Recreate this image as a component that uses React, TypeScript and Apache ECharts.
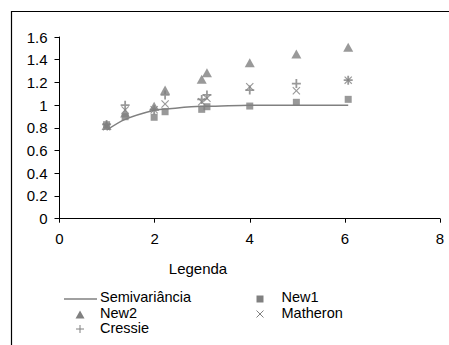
import React, { useEffect, useRef } from "react";
import * as echarts from "echarts";

const lags = [0.99, 1.38, 1.99, 2.22, 2.99, 3.1, 4.0, 4.98, 6.07];
const semivariancia = [0.78, 0.875, 0.955, 0.965, 0.99, 0.99, 1.0, 1.0, 1.0];
const new1 = [0.828, 0.898, 0.893, 0.942, 0.963, 0.986, 0.992, 1.025, 1.051];
const new2 = [0.82, 0.93, 0.99, 1.133, 1.227, 1.285, 1.373, 1.45, 1.509];
const matheron = [0.81, 0.957, 0.96, 1.01, 1.03, 1.06, 1.162, 1.127, 1.22];
const cressie = [0.83, 1.0, 0.96, 1.09, 1.05, 1.09, 1.133, 1.19, 1.22];

const xTicks = { min: 0, max: 8, interval: 2 };
const yTicks = { min: 0, max: 1.6, interval: 0.2 };
const xTitle = "Legenda";
const names = ["Semivariância", "New1", "New2", "Matheron", "Cressie"];

const GRAY = "#808080";
const FONT = "'Liberation Sans', Arial, sans-serif";

const plusPath = "path://M4,0L6,0L6,4L10,4L10,6L6,6L6,10L4,10L4,6L0,6L0,4L4,4Z";
const crossPath =
  "path://M0,1L1,0L5,4L9,0L10,1L6,5L10,9L9,10L5,6L1,10L0,9L4,5Z";

function pairs(ys: number[]) {
  return lags.map((x, i) => [x, ys[i]]);
}

function legendText(text: string, x: number, y: number) {
  return {
    type: "text",
    x,
    y,
    silent: true,
    style: {
      text,
      fontSize: 14.5,
      lineHeight: 14,
      fontFamily: FONT,
      fill: "#000",
      align: "left",
      verticalAlign: "middle",
    },
  };
}

export default function App() {
  const ref = useRef<HTMLDivElement>(null);
  useEffect(() => {
    if (!ref.current) return;
    const chart = echarts.init(ref.current, undefined, { renderer: "svg" });
    const gray = { fill: GRAY };
    const grayStroke = { stroke: GRAY, lineWidth: 1 };
    chart.setOption({
      animation: false,
      backgroundColor: "#fff",
      textStyle: { fontFamily: FONT },
      grid: { left: 59.5, top: 37, width: 380.5, height: 181.7, containLabel: false },
      xAxis: {
        type: "value",
        min: xTicks.min,
        max: xTicks.max,
        interval: xTicks.interval,
        splitLine: { show: false },
        axisLine: { lineStyle: { color: "#000", width: 1 } },
        axisTick: { show: true, length: 4, lineStyle: { color: "#000" } },
        axisLabel: { fontSize: 15, color: "#000", margin: 12, fontFamily: FONT },
      },
      yAxis: {
        type: "value",
        min: yTicks.min,
        max: yTicks.max,
        interval: yTicks.interval,
        splitLine: { show: false },
        axisLine: { show: true, lineStyle: { color: "#000", width: 1 } },
        axisTick: { show: true, length: 5, lineStyle: { color: "#000" } },
        axisLabel: { fontSize: 15, color: "#000", margin: 12, fontFamily: FONT },
      },
      graphic: [
        {
          type: "polyline",
          shape: { points: [[11.5, 345], [11.5, 11.5], [449, 11.5]] },
          style: { stroke: "#000", lineWidth: 1.2, fill: "none" },
          silent: true,
        },
        {
          type: "text",
          x: 198,
          y: 268,
          silent: true,
          style: {
            text: xTitle,
            fontSize: 15,
            fontFamily: FONT,
            fill: "#000",
            align: "center",
            verticalAlign: "middle",
          },
        },
        // legend row 1
        {
          type: "line",
          shape: { x1: 64, y1: 299, x2: 97, y2: 299 },
          style: { stroke: GRAY, lineWidth: 1.5 },
          silent: true,
        },
        legendText(names[0], 100, 297),
        {
          type: "rect",
          shape: { x: 256.5, y: 295.5, width: 7, height: 7 },
          style: gray,
          silent: true,
        },
        legendText(names[1], 281.5, 297),
        // legend row 2
        {
          type: "polygon",
          shape: { points: [[75.5, 318.5], [84.5, 318.5], [80, 310.5]] },
          style: gray,
          silent: true,
        },
        legendText(names[2], 100, 312.5),
        {
          type: "line",
          shape: { x1: 256.5, y1: 310.5, x2: 263.5, y2: 317.5 },
          style: grayStroke,
          silent: true,
        },
        {
          type: "line",
          shape: { x1: 263.5, y1: 310.5, x2: 256.5, y2: 317.5 },
          style: grayStroke,
          silent: true,
        },
        legendText(names[3], 281.5, 312.5),
        // legend row 3
        {
          type: "line",
          shape: { x1: 76, y1: 329, x2: 84, y2: 329 },
          style: grayStroke,
          silent: true,
        },
        {
          type: "line",
          shape: { x1: 80, y1: 325, x2: 80, y2: 333 },
          style: grayStroke,
          silent: true,
        },
        legendText(names[4], 100, 328),
      ],
      series: [
        {
          name: names[0],
          type: "line",
          data: pairs(semivariancia),
          symbol: "none",
          smooth: 0.3,
          lineStyle: { color: GRAY, width: 1.5 },
          itemStyle: { color: GRAY },
          z: 1,
        },
        {
          name: names[2],
          type: "scatter",
          data: pairs(new2),
          symbol: "triangle",
          symbolSize: [10, 9],
          itemStyle: { color: GRAY },
          z: 2,
        },
        {
          name: names[1],
          type: "scatter",
          data: pairs(new1),
          symbol: "rect",
          symbolSize: 7,
          itemStyle: { color: GRAY },
          z: 3,
        },
        {
          name: names[3],
          type: "scatter",
          data: pairs(matheron),
          symbol: crossPath,
          symbolSize: 8,
          itemStyle: { color: GRAY },
          z: 4,
        },
        {
          name: names[4],
          type: "scatter",
          data: pairs(cressie),
          symbol: plusPath,
          symbolSize: 9,
          itemStyle: { color: GRAY },
          z: 5,
        },
      ],
    });
    return () => chart.dispose();
  }, []);
  return (
    <div
      ref={ref}
      style={{ position: "fixed", left: 0, top: 0, width: 449, height: 345 }}
    />
  );
}
